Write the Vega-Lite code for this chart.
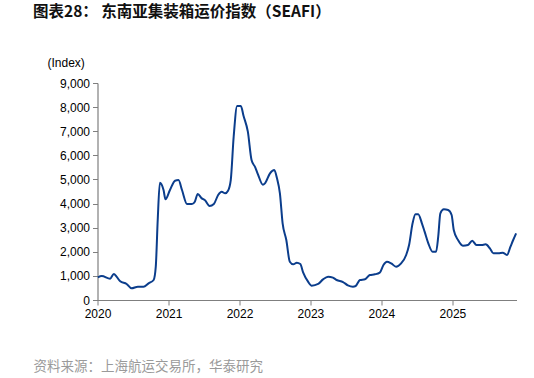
{
  "$schema": "https://vega.github.io/schema/vega-lite/v6.json",
  "autosize": {"type": "none"},
  "width": 419,
  "height": 217,
  "padding": {"left": 97.5, "top": 83, "right": 17.5, "bottom": 78},
  "background": "white",
  "title": {
    "text": "图表28： 东南亚集装箱运价指数（SEAFI）",
    "anchor": "start",
    "frame": "group",
    "dx": -64.5,
    "dy": -32,
    "font": "Noto Sans CJK SC",
    "fontSize": 15.5,
    "fontWeight": "bold",
    "color": "#111111"
  },
  "config": {
    "view": {"stroke": null},
    "axis": {
      "labelFont": "Liberation Sans",
      "labelFontSize": 12,
      "labelColor": "#000000",
      "domainColor": "#7f7f7f",
      "tickColor": "#7f7f7f",
      "domainWidth": 1.2,
      "tickSize": 5,
      "grid": false
    }
  },
  "data": {
    "values": [
      {"date": "2020-01-03", "value": 940},
      {"date": "2020-01-23", "value": 995},
      {"date": "2020-03-06", "value": 885},
      {"date": "2020-03-25", "value": 1078},
      {"date": "2020-04-08", "value": 968},
      {"date": "2020-04-27", "value": 775},
      {"date": "2020-05-30", "value": 664},
      {"date": "2020-06-24", "value": 484},
      {"date": "2020-07-27", "value": 553},
      {"date": "2020-08-25", "value": 553},
      {"date": "2020-09-20", "value": 692},
      {"date": "2020-10-16", "value": 829},
      {"date": "2020-10-27", "value": 1382},
      {"date": "2020-11-06", "value": 3318},
      {"date": "2020-11-17", "value": 4865},
      {"date": "2020-12-06", "value": 4562},
      {"date": "2020-12-16", "value": 4175},
      {"date": "2021-01-08", "value": 4562},
      {"date": "2021-02-03", "value": 4948},
      {"date": "2021-02-21", "value": 4976},
      {"date": "2021-03-11", "value": 4562},
      {"date": "2021-04-06", "value": 3981},
      {"date": "2021-05-01", "value": 3981},
      {"date": "2021-05-16", "value": 4078},
      {"date": "2021-05-31", "value": 4396},
      {"date": "2021-06-21", "value": 4216},
      {"date": "2021-07-06", "value": 4147},
      {"date": "2021-07-31", "value": 3898},
      {"date": "2021-08-22", "value": 3981},
      {"date": "2021-09-13", "value": 4354},
      {"date": "2021-10-01", "value": 4492},
      {"date": "2021-10-19", "value": 4423},
      {"date": "2021-11-03", "value": 4533},
      {"date": "2021-11-17", "value": 4976},
      {"date": "2021-12-02", "value": 6772},
      {"date": "2021-12-20", "value": 8045},
      {"date": "2022-01-08", "value": 8045},
      {"date": "2022-01-22", "value": 7630},
      {"date": "2022-02-13", "value": 6980},
      {"date": "2022-03-04", "value": 5806},
      {"date": "2022-03-23", "value": 5503},
      {"date": "2022-04-06", "value": 5213},
      {"date": "2022-05-01", "value": 4783},
      {"date": "2022-05-12", "value": 4838},
      {"date": "2022-06-07", "value": 5254},
      {"date": "2022-06-29", "value": 5391},
      {"date": "2022-07-13", "value": 5047},
      {"date": "2022-07-28", "value": 4423},
      {"date": "2022-08-11", "value": 3181},
      {"date": "2022-08-30", "value": 2488},
      {"date": "2022-09-17", "value": 1588},
      {"date": "2022-10-05", "value": 1479},
      {"date": "2022-10-23", "value": 1547},
      {"date": "2022-11-10", "value": 1493},
      {"date": "2022-11-25", "value": 1132},
      {"date": "2022-12-20", "value": 759},
      {"date": "2023-01-08", "value": 594},
      {"date": "2023-02-10", "value": 664},
      {"date": "2023-03-07", "value": 857},
      {"date": "2023-04-02", "value": 968},
      {"date": "2023-04-27", "value": 926},
      {"date": "2023-05-16", "value": 829},
      {"date": "2023-06-18", "value": 746},
      {"date": "2023-07-13", "value": 608},
      {"date": "2023-08-08", "value": 553},
      {"date": "2023-08-22", "value": 581},
      {"date": "2023-09-13", "value": 829},
      {"date": "2023-10-09", "value": 857},
      {"date": "2023-11-03", "value": 1037},
      {"date": "2023-11-29", "value": 1064},
      {"date": "2023-12-24", "value": 1133},
      {"date": "2024-01-12", "value": 1451},
      {"date": "2024-01-30", "value": 1589},
      {"date": "2024-02-21", "value": 1520},
      {"date": "2024-03-17", "value": 1382},
      {"date": "2024-04-12", "value": 1520},
      {"date": "2024-05-08", "value": 1866},
      {"date": "2024-05-23", "value": 2281},
      {"date": "2024-06-10", "value": 3181},
      {"date": "2024-06-25", "value": 3553},
      {"date": "2024-07-09", "value": 3553},
      {"date": "2024-07-28", "value": 3181},
      {"date": "2024-08-11", "value": 2834},
      {"date": "2024-08-30", "value": 2350},
      {"date": "2024-09-21", "value": 2004},
      {"date": "2024-10-09", "value": 2004},
      {"date": "2024-10-20", "value": 2626},
      {"date": "2024-10-31", "value": 3594},
      {"date": "2024-11-18", "value": 3760},
      {"date": "2024-12-10", "value": 3732},
      {"date": "2024-12-28", "value": 3525},
      {"date": "2025-01-08", "value": 2903},
      {"date": "2025-01-30", "value": 2488},
      {"date": "2025-02-24", "value": 2253},
      {"date": "2025-03-22", "value": 2281},
      {"date": "2025-04-13", "value": 2461},
      {"date": "2025-05-05", "value": 2281},
      {"date": "2025-05-31", "value": 2281},
      {"date": "2025-06-21", "value": 2309},
      {"date": "2025-07-13", "value": 2143},
      {"date": "2025-07-31", "value": 1936},
      {"date": "2025-08-26", "value": 1936},
      {"date": "2025-09-17", "value": 1963},
      {"date": "2025-10-09", "value": 1866},
      {"date": "2025-10-27", "value": 2212},
      {"date": "2025-11-10", "value": 2488},
      {"date": "2025-11-25", "value": 2765}
    ]
  },
  "mark": {"type": "line", "color": "#0b3d8c", "strokeWidth": 2, "interpolate": "monotone"},
  "encoding": {
    "x": {
      "field": "date",
      "type": "temporal",
      "scale": {"domain": ["2020-01-01", "2025-11-27"]},
      "axis": {
        "values": ["2020-01-01", "2021-01-01", "2022-01-01", "2023-01-01", "2024-01-01", "2025-01-01"],
        "format": "%Y",
        "labelPadding": 3,
        "labelFlush": false,
        "title": "资料来源：上海航运交易所，华泰研究",
        "titleFont": "Noto Sans CJK SC",
        "titleFontSize": 13.5,
        "titleFontWeight": "normal",
        "titleColor": "#9a9a9a",
        "titleX": -64.5,
        "titleY": 66,
        "titleAlign": "left",
        "titleBaseline": "middle"
      }
    },
    "y": {
      "field": "value",
      "type": "quantitative",
      "scale": {"domain": [0, 9000]},
      "axis": {
        "values": [0, 1000, 2000, 3000, 4000, 5000, 6000, 7000, 8000, 9000],
        "format": ",d",
        "labelPadding": 3,
        "title": "(Index)",
        "titleFont": "Liberation Sans",
        "titleFontSize": 12,
        "titleFontWeight": "normal",
        "titleColor": "#000000",
        "titleAngle": 0,
        "titleX": -50.5,
        "titleY": -21,
        "titleAlign": "left",
        "titleBaseline": "middle"
      }
    }
  }
}
